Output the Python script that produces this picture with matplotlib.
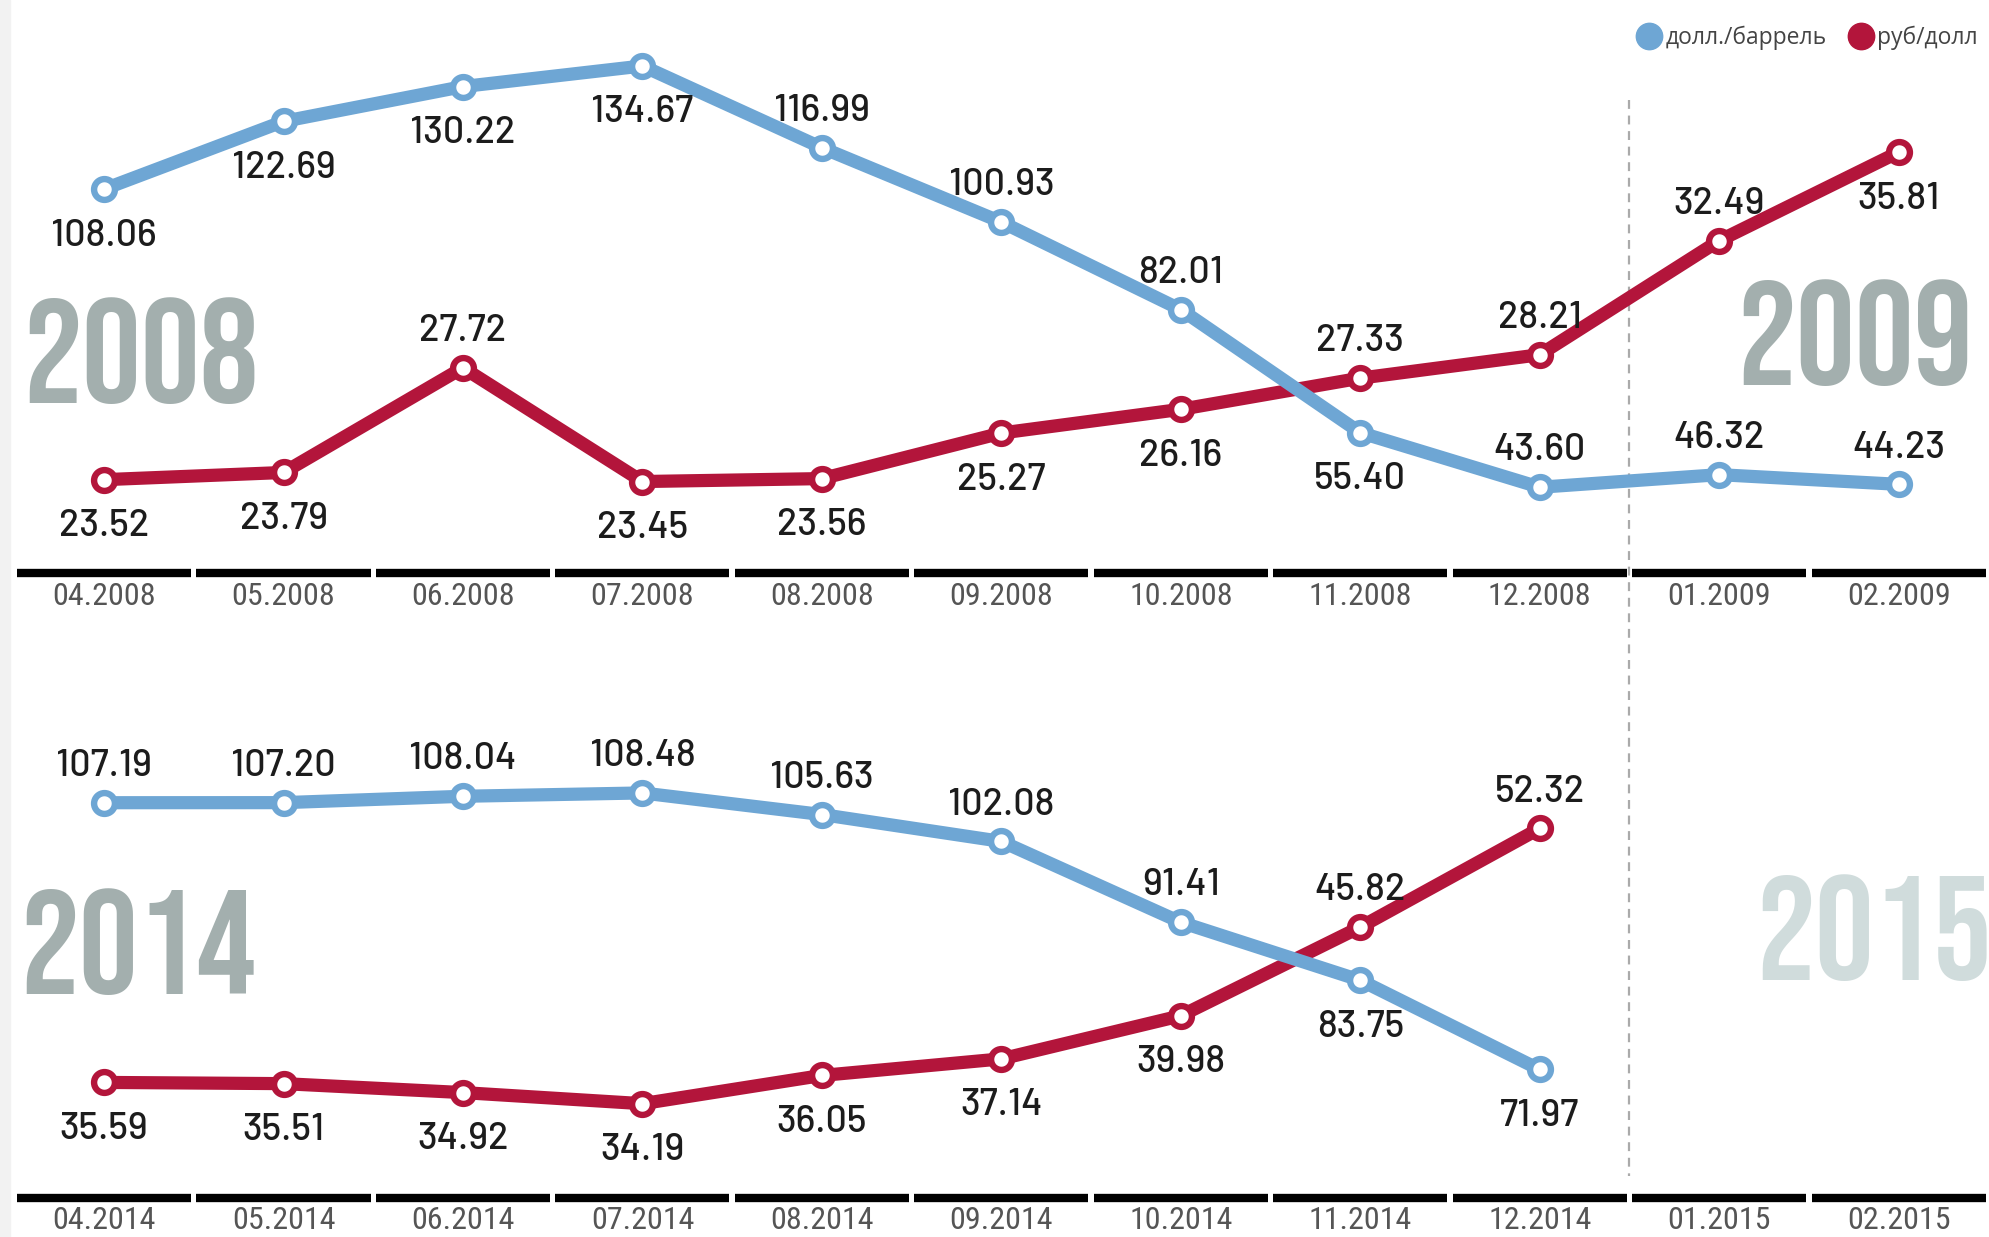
import matplotlib
matplotlib.use('Agg')
import matplotlib.pyplot as plt
from matplotlib.lines import Line2D
from matplotlib.patches import Rectangle

# data
months_2008 = ['04.2008', '05.2008', '06.2008', '07.2008', '08.2008', '09.2008',
               '10.2008', '11.2008', '12.2008', '01.2009', '02.2009']
oil_2008 = [108.06, 122.69, 130.22, 134.67, 116.99, 100.93, 82.01, 55.40, 43.60, 46.32, 44.23]
rub_2008 = [23.52, 23.79, 27.72, 23.45, 23.56, 25.27, 26.16, 27.33, 28.21, 32.49, 35.81]

months_2014 = ['04.2014', '05.2014', '06.2014', '07.2014', '08.2014', '09.2014',
               '10.2014', '11.2014', '12.2014', '01.2015', '02.2015']
oil_2014 = [107.19, 107.20, 108.04, 108.48, 105.63, 102.08, 91.41, 83.75, 71.97]
rub_2014 = [35.59, 35.51, 34.92, 34.19, 36.05, 37.14, 39.98, 45.82, 52.32]

# label placement: 1 above the point, -1 below
oil_2008_side = [-1, -1, -1, -1, 1, 1, 1, -1, 1, 1, 1]
rub_2008_side = [-1, -1, 1, -1, -1, -1, -1, 1, 1, 1, -1]
oil_2014_side = [1, 1, 1, 1, 1, 1, 1, -1, -1]
rub_2014_side = [-1, -1, -1, -1, -1, -1, -1, 1, 1]

BLUE = '#6ea6d4'
RED = '#b3153b'
YEAR_GRAY = '#a3afae'
TICK_FONT = ['Roboto Condensed', 'Barlow Condensed', 'DejaVu Sans']
LABEL_FONT = ['Barlow', 'Roboto', 'DejaVu Sans']
YEAR_FONT = ['Bebas Neue', 'Barlow Condensed', 'DejaVu Sans']

fig = plt.figure(figsize=(19.9, 12.37), dpi=100)
fig.patches.append(Rectangle((0, 0), 0.005, 1, transform=fig.transFigure,
                             color='#f2f2f2', zorder=0))


def draw_series(ax, vals, side, color):
    x = list(range(len(vals)))
    ax.plot(x, vals, color=color, lw=9.5, solid_capstyle='round', zorder=3)
    ax.plot(x, vals, 'o', ms=15, mfc='white', mec=color, mew=4.6, zorder=4)
    for xi, v, s in zip(x, vals, side):
        ax.annotate('%.2f' % v, (xi, v), xytext=(0, 30 * s - 3.5), textcoords='offset points',
                    ha='center', va='center', fontsize=27, color='#1c1c1c',
                    family=LABEL_FONT, fontweight='medium', zorder=5)


def panel(rect, months, oil, rub, oil_side, rub_side, oil_lim, rub_lim):
    ax = fig.add_axes(rect)
    ax.patch.set_alpha(0)
    draw_series(ax, rub, rub_side, RED)
    ax.set_ylim(*rub_lim)
    ax.set_xlim(-0.5, 10.5)
    ax2 = ax.twinx()
    ax2.patch.set_alpha(0)
    draw_series(ax2, oil, oil_side, BLUE)
    ax2.set_ylim(*oil_lim)
    ax2.set_xlim(-0.5, 10.5)
    for a in (ax, ax2):
        for sp in a.spines.values():
            sp.set_visible(False)
        a.set_yticks([])
    ax2.set_xticks([])
    # black baseline segments under every month
    ax.hlines([0] * len(months), [i - 0.485 for i in range(len(months))],
              [i + 0.485 for i in range(len(months))], colors='black', lw=6,
              transform=ax.get_xaxis_transform(), clip_on=False, zorder=2)
    ax.set_xticks(range(len(months)))
    ax.set_xticklabels(months, fontsize=23, color='#555555', family=TICK_FONT)
    ax.tick_params(axis='x', length=0, pad=6)
    return ax


ax_top = panel([0.0072, 0.5364, 0.9920, 0.4636], months_2008, oil_2008, rub_2008,
               oil_2008_side, rub_2008_side, (24.96, 148.93), (20.0, 41.52))
ax_bot = panel([0.0072, 0.0318, 0.9920, 0.4554], months_2014, oil_2014, rub_2014,
               oil_2014_side, rub_2014_side, (55.05, 129.42), (28.0, 65.1))

# dashed separator between December and January
ax_top.plot([8.5, 8.5], [0.826, -1.05], transform=ax_top.get_xaxis_transform(),
            color='#aaaaaa', lw=1.6, ls=(0, (4, 3)), clip_on=False, zorder=1)

# big year labels
year_kw = dict(fontsize=106, family=YEAR_FONT, va='baseline')
fig.text(23 / 1990, 1 - 403 / 1237, '2008', color=YEAR_GRAY, ha='left', **year_kw)
fig.text(1973 / 1990, 1 - 385 / 1237, '2009', color=YEAR_GRAY, ha='right', **year_kw)
fig.text(20 / 1990, 1 - 994 / 1237, '2014', color=YEAR_GRAY, ha='left', **year_kw)
fig.text(1992 / 1990, 1 - 980 / 1237, '2015', color='#d0dcdc', ha='right', **year_kw)

# legend
handles = [Line2D([], [], ls='', marker='o', ms=19, color=BLUE),
           Line2D([], [], ls='', marker='o', ms=19, color=RED)]
fig.legend(handles, ['долл./баррель', 'руб/долл'], loc='upper right',
           bbox_to_anchor=(1.004, 0.996), ncol=2, frameon=False, handletextpad=0.2,
           columnspacing=1.0, handlelength=1.0,
           prop={'family': ['Open Sans', 'DejaVu Sans'], 'size': 16.5},
           labelcolor='#444444')

fig.savefig('out.png', dpi=100)
